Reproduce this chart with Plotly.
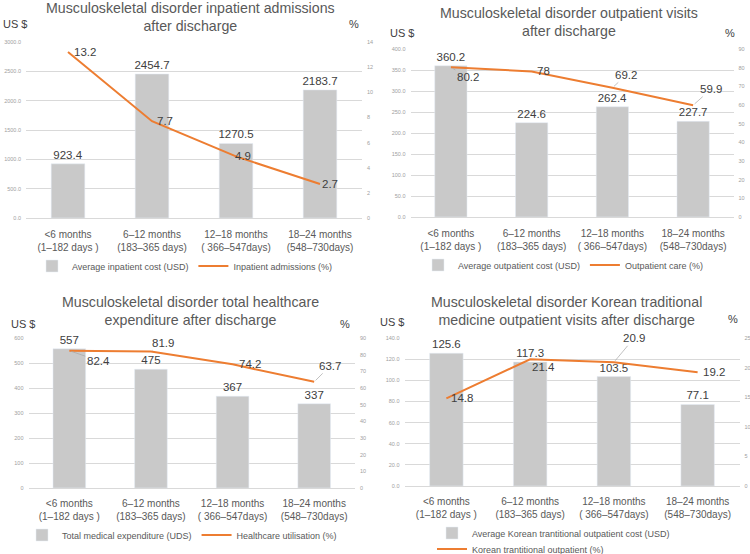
import plotly.graph_objects as go

# ---------------- data ----------------
categories = ["<6 months<br>(1–182 days )", "6–12 months<br>(183–365 days)",
              "12–18 months<br>( 366–547days)", "18–24 months<br>(548–730days)"]

inpatient_cost = [923.4, 2454.7, 1270.5, 2183.7]
inpatient_pct = [13.2, 7.7, 4.9, 2.7]

outpatient_cost = [360.2, 224.6, 262.4, 227.7]
outpatient_pct = [80.2, 78, 69.2, 59.9]

total_expenditure = [557, 475, 367, 337]
utilisation_pct = [82.4, 81.9, 74.2, 63.7]

ktm_cost = [125.6, 117.3, 103.5, 77.1]
ktm_pct = [14.8, 21.4, 20.9, 19.2]

titles = [
    "Musculoskeletal disorder inpatient admissions<br>after discharge",
    "Musculoskeletal disorder outpatient visits<br>after discharge",
    "Musculoskeletal disorder total healthcare<br>expenditure after discharge",
    "Musculoskeletal disorder Korean traditional<br>medicine outpatient visits after discharge",
]
bar_names = ["Average inpatient cost (USD)", "Average outpatient cost (USD)",
             "Total medical expenditure (UDS)", "Average Korean trantitional outpatient cost (USD)"]
line_names = ["Inpatient admissions (%)", "Outpatient care (%)",
              "Healthcare utilisation (%)", "Korean trantitional outpatient (%)"]

left_ticks = [list(range(0, 3001, 500)), list(range(0, 401, 50)),
              list(range(0, 601, 100)), list(range(0, 141, 20))]
right_ticks = [list(range(0, 15, 2)), list(range(0, 91, 10)),
               list(range(0, 91, 10)), list(range(0, 26, 5))]

# ---------------- style ----------------
W, H = 750, 554
FONT = "Liberation Sans"
BAR_C = "#c9c9c9"
LINE_C = "#ED7D31"
TXT = "#404040"
GRAY = "#595959"
TICK_C = "#a0a0a0"
GRID_C = "#d9d9d9"

# pixel boxes: (x0, x1, ytop, ybottom)
boxes = [(26, 362, 42, 218), (410.5, 733.5, 49, 217),
         (28.5, 355, 338, 488), (404.5, 739.5, 338, 486)]
left_fmt = [".1f", ".1f", "d", ".1f"]
title_pos = [(190, 17), (569, 22), (190.5, 311), (566.5, 311)]
us_pos = [(1, 24), (388, 33), (9, 324), (378, 322)]
pct_pos = [(361, 24), (737, 33), (352, 324), (740, 319)]
tick_standoff = [9, 9, 8, 8]
legend_pos = [(32, 266), (418, 265), (22, 535), (432, 533)]
legend4_line_pos = (432, 549)

# line-label offsets (dx, dy in px, leader line?)
offsets = [
    [(17, 0, False), (13, 0, False), (7, 0, False), (10, 0, False)],
    [(17, 10, True), (12, 0, False), (14, -13, True), (18, -16, True)],
    [(29, 10, True), (12, -9, True), (17, 0, False), (16, -16, True)],
    [(16, 0, False), (13, 8, False), (20, -24, True), (16, 0, False)],
]

costs = [inpatient_cost, outpatient_cost, total_expenditure, ktm_cost]
pcts = [inpatient_pct, outpatient_pct, utilisation_pct, ktm_pct]

fig = go.Figure()
layout = dict(width=W, height=H, margin=dict(l=0, r=0, t=0, b=0, autoexpand=False),
              paper_bgcolor="white", plot_bgcolor="white",
              font=dict(family=FONT, color=GRAY), showlegend=True)
annotations = []


def legend_dict(xp, yp):
    return dict(x=xp / W, y=1 - yp / H, xanchor="left", yanchor="middle",
                orientation="h", font=dict(size=9, color=GRAY),
                bgcolor="rgba(0,0,0,0)", itemwidth=30, tracegroupgap=0)


for i in range(4):
    n = i + 1
    xname = "xaxis" if n == 1 else f"xaxis{n}"
    xref = "x" if n == 1 else f"x{n}"
    ly = 2 * n - 1
    ry = 2 * n
    lyname = "yaxis" if ly == 1 else f"yaxis{ly}"
    lyref = "y" if ly == 1 else f"y{ly}"
    ryname = f"yaxis{ry}"
    ryref = f"y{ry}"
    x0, x1, yt, yb = boxes[i]
    xd = [x0 / W, x1 / W]
    yd = [1 - yb / H, 1 - yt / H]
    legname = "legend" if n == 1 else f"legend{n}"
    line_leg = "legend5" if n == 4 else legname

    fig.add_trace(go.Bar(
        x=categories, y=costs[i], name=bar_names[i], marker_color=BAR_C,
        width=0.4, xaxis=xref, yaxis=lyref, legend=legname,
        text=[f"{v:g}" for v in costs[i]], textposition="outside",
        textfont=dict(size=11.5, color=TXT, family=FONT),
        constraintext="none", cliponaxis=False, hoverinfo="skip"))
    fig.add_trace(go.Scatter(
        x=categories, y=pcts[i], name=line_names[i], mode="lines",
        line=dict(color=LINE_C, width=2), xaxis=xref, yaxis=ryref,
        legend=line_leg, cliponaxis=False, hoverinfo="skip"))

    layout[xname] = dict(domain=xd, anchor=lyref, type="category",
                         range=[-0.5, 3.5], showgrid=False, showline=False,
                         ticks="", tickfont=dict(size=10, color=GRAY),
                         ticklabelstandoff=tick_standoff[i], fixedrange=True,
                         automargin=False)
    lt = left_ticks[i]
    layout[lyname] = dict(domain=yd, anchor=xref, range=[0, lt[-1]],
                          tickvals=lt, tickformat=left_fmt[i],
                          tickfont=dict(size=5.5, color=TICK_C),
                          showgrid=True, gridcolor=GRID_C, gridwidth=0.8,
                          zeroline=True, zerolinecolor=GRID_C, zerolinewidth=0.8,
                          showline=False, ticks="", ticklabelstandoff=4,
                          automargin=False)
    rt = right_ticks[i]
    layout[ryname] = dict(overlaying=lyref, side="right", anchor=xref,
                          range=[0, rt[-1]], tickvals=rt,
                          tickfont=dict(size=5.5, color=TICK_C),
                          showgrid=False, zeroline=False, showline=False,
                          ticks="", ticklabelstandoff=4, automargin=False)

    lx, lyp = legend_pos[i]
    layout[legname] = legend_dict(lx, lyp)
    if n == 4:
        layout["legend5"] = legend_dict(*legend4_line_pos)

    tx, ty = title_pos[i]
    annotations.append(dict(text=titles[i], x=tx / W, y=1 - ty / H, xref="paper",
                            yref="paper", showarrow=False, xanchor="center",
                            yanchor="middle", font=dict(size=14.2, color=GRAY)))
    ux, uy = us_pos[i]
    annotations.append(dict(text="US $", x=ux / W, y=1 - uy / H, xref="paper",
                            yref="paper", showarrow=False, xanchor="left",
                            yanchor="middle", font=dict(size=11, color=TXT)))
    px_, py_ = pct_pos[i]
    annotations.append(dict(text="%", x=px_ / W, y=1 - py_ / H, xref="paper",
                            yref="paper", showarrow=False, xanchor="right",
                            yanchor="middle", font=dict(size=11, color=TXT)))

    for j, v in enumerate(pcts[i]):
        dx, dy, leader = offsets[i][j]
        a = dict(text=f"{v:g}", x=categories[j], y=v, xref=xref, yref=ryref,
                 font=dict(size=11.5, color=TXT))
        if leader:
            a.update(showarrow=True, ax=dx, ay=dy, arrowhead=0, arrowwidth=0.7,
                     arrowcolor="#a6a6a6", standoff=2)
        else:
            a.update(showarrow=False, xshift=dx, yshift=-dy)
        annotations.append(a)

layout["annotations"] = annotations
fig.update_layout(**layout)
fig.write_html("out.html")
